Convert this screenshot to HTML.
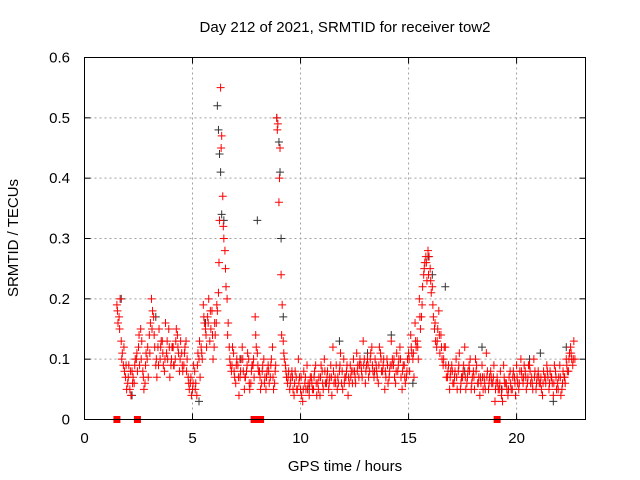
<!DOCTYPE html>
<html><head><meta charset="utf-8"><style>
body{margin:0;background:#fff}
svg{display:block;font-family:"Liberation Sans",sans-serif}
</style></head><body>
<svg id="chart" width="640" height="480" viewBox="0 0 640 480">
<rect x="0" y="0" width="640" height="480" fill="#fff"/>
<text x="345" y="32" text-anchor="middle" font-size="15">Day 212 of 2021, SRMTID for receiver tow2</text>
<text x="345" y="471" text-anchor="middle" font-size="15">GPS time / hours</text>
<text transform="translate(18,238) rotate(-90)" text-anchor="middle" font-size="15">SRMTID / TECUs</text>
<g id="grid"></g>
<g id="ticks"></g>
<g id="marks"></g>
<rect x="84.5" y="57.5" width="501" height="362" fill="none" stroke="#000"/>
</svg>
<script>
const xTicks=[0,5,10,15,20];
const yTicks=[0,0.1,0.2,0.3,0.4,0.5,0.6];
const yTickLabels=["0","0.1","0.2","0.3","0.4","0.5","0.6"];
const seriesAStart=1.5;
const seriesAValues=[.19,.17,.13,.09,.07,.06,.05,.08,.06,.10,
.12,.15,.08,.06,.10,.14,.2,.17,.09,.12,
.10,.13,.08,.11,.15,.09,.12,.10,.14,.08,
.11,.09,.13,.07,.06,.05,.08,.04,.10,.12,
.19,.15,.17,.13,.18,.12,.16,.21,.55,.37,
.28,.2,.12,.08,.11,.06,.09,.07,.12,.05,
.08,.10,.06,.09,.17,.11,.08,.06,.10,.05,
.09,.07,.12,.06,.50,.36,.24,.13,.09,.06,
.05,.08,.04,.07,.10,.05,.03,.06,.09,.04,
.07,.05,.09,.06,.04,.08,.10,.06,.05,.09,
.12,.07,.05,.08,.06,.10,.07,.04,.09,.06,
.08,.11,.07,.09,.13,.06,.10,.08,.12,.07,
.09,.06,.11,.08,.05,.10,.07,.13,.09,.06,
.08,.12,.05,.09,.07,.11,.14,.10,.16,.13,
.20,.17,.24,.27,.28,.25,.22,.15,.12,.18,
.14,.09,.12,.07,.05,.09,.06,.10,.08,.05,
.07,.12,.06,.09,.05,.08,.10,.06,.04,.09,
.07,.11,.05,.08,.06,.03,.07,.05,.04,.09,
.06,.04,.08,.05,.07,.09,.05,.10,.06,.08,
.06,.09,.07,.10,.05,.08,.06,.04,.07,.09,
.05,.07,.04,.08,.06,.09,.05,.07,.10,.08,
.12,.09,.10];
const seriesBStart=1.55;
const seriesBValues=[.16,.2,.11,.08,.05,.09,.04,.07,.10,.08,
.09,.13,.05,.11,.07,.16,.18,.12,.07,.15,
.13,.09,.16,.10,.07,.12,.09,.15,.11,.13,
.08,.12,.10,.05,.04,.09,.06,.11,.07,.10,
.16,.12,.20,.15,.10,.14,.18,.33,.47,.30,
.22,.16,.09,.12,.07,.10,.04,.10,.08,.07,
.11,.05,.09,.07,.12,.08,.05,.09,.07,.08,
.06,.10,.05,.09,.49,.45,.19,.10,.07,.08,
.07,.05,.08,.05,.07,.04,.08,.05,.06,.07,
.05,.08,.04,.07,.09,.05,.06,.08,.07,.04,
.06,.09,.06,.11,.05,.07,.09,.06,.08,.10,
.06,.09,.10,.07,.10,.09,.07,.11,.08,.10,
.07,.12,.08,.10,.07,.06,.09,.10,.07,.11,
.10,.07,.09,.06,.10,.08,.11,.07,.12,.10,
.15,.22,.26,.23,.27,.21,.17,.13,.15,.11,
.10,.12,.07,.09,.08,.06,.08,.05,.11,.07,
.09,.05,.08,.10,.07,.05,.09,.07,.06,.05,
.05,.08,.07,.06,.09,.06,.05,.08,.03,.06,
.05,.07,.05,.08,.04,.06,.08,.07,.09,.05,
.09,.06,.05,.08,.07,.06,.05,.08,.06,.07,
.08,.06,.09,.05,.07,.04,.08,.06,.08,.11,
.10,.13];
const seriesCStart=1.525;
const seriesCValues=[.18,.15,.10,.12,.09,.07,.08,.06,.09,.11,
.14,.10,.07,.09,.12,.11,.15,.14,.10,.09,
.12,.11,.10,.13,.12,.10,.09,.13,.12,.10,
.09,.11,.08,.06,.07,.06,.05,.09,.13,.11,
.17,.14,.16,.18,.14,.16,.19,.26,.45,.32,
.25,.14,.10,.09,.08,.09,.07,.08,.10,.07,
.09,.06,.08,.10,.14,.09,.07,.08,.06,.07,
.08,.09,.07,.08,.48,.40,.14,.11,.08,.07,
.06,.07,.06,.05,.06,.07,.05,.07,.05,.06,
.06,.07,.06,.05,.07,.06,.08,.07,.06,.07,
.08,.06,.07,.09,.08,.06,.08,.07,.07,.08,
.07,.08,.09,.08,.09,.08,.09,.10,.09,.08,
.08,.09,.10,.09,.08,.09,.08,.09,.10,.08,
.09,.10,.08,.07,.08,.10,.12,.11,.13,.12,
.17,.19,.25,.26,.24,.23,.19,.16,.13,.14,
.12,.10,.09,.08,.07,.08,.07,.07,.09,.06,
.08,.07,.07,.08,.06,.07,.08,.06,.07,.07,
.06,.07,.06,.07,.07,.05,.06,.06,.05,.07,
.06,.05,.06,.07,.06,.07,.06,.08,.07,.07,
.07,.08,.06,.07,.06,.07,.07,.06,.07,.08,
.06,.07,.06,.07,.05,.07,.06,.07,.09,.10,
.11,.10];
const seriesStep=0.1;
const blackTimes=[1.7,2.2,3.3,4.1,5.3,5.6,6.15,6.2,6.25,6.3,6.35,6.45,7.2,8.0,8.9,9.0,9.05,9.1,9.2,10.4,11.8,13.1,14.2,15.2,15.9,16.1,16.7,17.6,18.4,19.3,20.6,21.1,21.7,22.3];
const blackValues=[.2,.04,.17,.12,.03,.16,.52,.48,.44,.41,.34,.33,.1,.33,.5,.46,.41,.3,.17,.05,.13,.11,.14,.06,.27,.24,.22,.08,.12,.05,.1,.11,.03,.12];
const zeroTimes=[1.5,2.45,7.85,8.15,19.1];

const NS="http://www.w3.org/2000/svg";
const X0=84.5,X1=585.5,Y0=419.5,Y1=57.5,TMAX=23.19;
function xs(t){return X0+(t/TMAX)*(X1-X0);}
function ys(v){return Y0-(v/0.6)*(Y0-Y1);}
const grid=document.getElementById('grid'),ticks=document.getElementById('ticks'),marks=document.getElementById('marks');
function mk(tag,attrs,parent){const e=document.createElementNS(NS,tag);for(const k in attrs)e.setAttribute(k,attrs[k]);parent.appendChild(e);return e;}
xTicks.forEach(t=>{
  const x=xs(t);
  if(t>0){const g=mk('line',{x1:x,x2:x,y1:Y0,y2:Y1,stroke:'#a0a0a0','stroke-dasharray':'2,3'},grid);
  
  }
  const l=mk('text',{x:x,y:443,'text-anchor':'middle','font-size':'15'},ticks);l.textContent=String(t);
  
  
  mk('line',{x1:x,x2:x,y1:Y0,y2:Y0-6,stroke:'#000'},ticks);
  mk('line',{x1:x,x2:x,y1:Y1,y2:Y1+6,stroke:'#000'},ticks);
});
yTicks.forEach((v,i)=>{
  const y=ys(v);
  if(i>0&&i<yTicks.length-1){const g=mk('line',{x1:X0,x2:X1,y1:y,y2:y,stroke:'#a0a0a0','stroke-dasharray':'2,3'},grid);
  
  }
  const l=mk('text',{x:70,y:y+5,'text-anchor':'end','font-size':'15'},ticks);l.textContent=yTickLabels[i];
  
  
  mk('line',{x1:X0,x2:X0+6,y1:y,y2:y,stroke:'#000'},ticks);
  mk('line',{x1:X1,x2:X1-6,y1:y,y2:y,stroke:'#000'},ticks);
});
function plus(t,v,color,name){
  const x=xs(t),y=ys(v);
  const p=mk('path',{d:`M${x-4},${y}H${x+4}M${x},${y-4}V${y+4}`,stroke:color,'stroke-width':'1',fill:'none'},marks);
  
  
}
blackTimes.forEach((t,i)=>plus(t,blackValues[i],'#333','black-point'));
seriesAValues.forEach((v,i)=>plus(seriesAStart+i*seriesStep,v,'#ff0000','red-point'));
seriesBValues.forEach((v,i)=>plus(seriesBStart+i*seriesStep,v,'#ff0000','red-point'));
seriesCValues.forEach((v,i)=>plus(seriesCStart+i*seriesStep,v,'#ff0000','red-point'));
zeroTimes.forEach(t=>{
  const r=mk('rect',{x:xs(t)-3.5,y:Y0-3.5,width:7,height:7,fill:'#ff0000'},marks);
  
  
});
</script>
</body></html>
